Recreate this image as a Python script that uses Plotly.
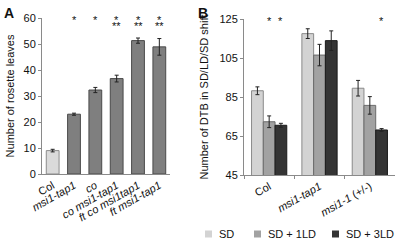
import plotly.graph_objects as go

# ---- Panel A data ----
a_categories = ["Col", "<i>msi1-tap1</i>", "<i>co</i>", "<i>co msi1-tap1</i>",
                "<i>ft co msi1tap1</i>", "<i>ft msi1-tap1</i>"]
a_values = [9.0, 23.0, 32.3, 36.7, 51.3, 48.9]
a_errors = [0.5, 0.4, 1.0, 1.3, 1.0, 3.2]
a_single_star = [1, 2, 3, 4, 5]
a_double_star = [3, 4, 5]
a_ticks = [0, 10, 20, 30, 40, 50, 60]

# ---- Panel B data ----
b_categories = ["Col", "<i>msi1-tap1</i>", "<i>msi1-1</i> (+/-)"]
b_series = ["SD", "SD + 1LD", "SD + 3LD"]
b_values = {
    "SD": [88.2, 117.5, 89.5],
    "SD + 1LD": [72.3, 106.5, 80.7],
    "SD + 3LD": [70.5, 113.9, 68.1],
}
b_errors = {
    "SD": [2.0, 2.5, 4.0],
    "SD + 1LD": [3.0, 5.5, 4.5],
    "SD + 3LD": [1.0, 5.0, 0.7],
}
b_stars = [(0, "SD + 1LD"), (0, "SD + 3LD"), (2, "SD + 3LD")]
b_ticks = [45, 65, 85, 105, 125]

# styles
W, H = 397, 241
FONT = "Liberation Sans, Arial, sans-serif"
INK = "#111111"
b_fill = {"SD": "#d3d3d3", "SD + 1LD": "#a2a2a2", "SD + 3LD": "#343434"}
b_line = {"SD": "#8a8a8a", "SD + 1LD": "#6a6a6a", "SD + 3LD": "#1a1a1a"}

fig = go.Figure()

a_colors = ["#dadada"] + ["#7f7f7f"] * (len(a_values) - 1)
a_lines = ["#8c8c8c"] + ["#4a4a4a"] * (len(a_values) - 1)
fig.add_trace(go.Bar(
    x=a_categories, y=a_values, width=0.6,
    marker=dict(color=a_colors, line=dict(color=a_lines, width=1)),
    error_y=dict(type="data", array=a_errors, color="#222", thickness=1, width=2),
    xaxis="x", yaxis="y", showlegend=False,
))

for s in b_series:
    fig.add_trace(go.Bar(
        x=b_categories, y=b_values[s], name=s,
        marker=dict(color=b_fill[s], line=dict(color=b_line[s], width=1)),
        error_y=dict(type="data", array=b_errors[s], color="#222", thickness=1, width=2),
        xaxis="x2", yaxis="y2", showlegend=False,
    ))


def axis_style(ticks="outside"):
    return dict(showgrid=False, zeroline=False, showline=True, linecolor="#8a8a8a",
                linewidth=1, ticks=ticks, tickcolor="#8a8a8a", ticklen=3,
                tickfont=dict(family=FONT, size=11, color=INK), automargin=False)


fig.update_layout(
    width=W, height=H, template="none",
    margin=dict(l=0, r=0, t=0, b=0),
    paper_bgcolor="white", plot_bgcolor="white",
    barmode="group", bargap=0.3, bargroupgap=0,
    font=dict(family=FONT, size=11, color=INK),
    xaxis=dict(domain=[42 / W, 170 / W], anchor="y", tickangle=-30, **axis_style("")),
    yaxis=dict(domain=[67 / H, 223 / H], anchor="x", range=[0, 60],
               tickmode="array", tickvals=a_ticks,
               title=dict(text="Number of rosette leaves", standoff=6,
                          font=dict(family=FONT, size=11, color=INK)),
               **axis_style()),
    xaxis2=dict(domain=[244 / W, 395 / W], anchor="y2", tickangle=-30,
                tickson="boundaries", **axis_style()),
    yaxis2=dict(domain=[66 / H, 222 / H], anchor="x2", range=[45, 125],
                tickmode="array", tickvals=b_ticks,
                title=dict(text="Number of DTB in SD/LD/SD shift", standoff=8,
                           font=dict(family=FONT, size=11, color=INK)),
                **axis_style()),
)

ann = []
ann.append(dict(text="<b>A</b>", x=2 / W, y=1 - 3 / H, xref="paper", yref="paper",
                xanchor="left", yanchor="top", showarrow=False,
                font=dict(size=14, color=INK)))
ann.append(dict(text="<b>B</b>", x=196 / W, y=1 - 3 / H, xref="paper", yref="paper",
                xanchor="left", yanchor="top", showarrow=False,
                font=dict(size=14, color=INK)))
for i in a_single_star:
    ann.append(dict(text="*", x=i, y=59.2, xref="x", yref="y", showarrow=False,
                    yanchor="middle", font=dict(size=11, color=INK)))
for i in a_double_star:
    ann.append(dict(text="**", x=i, y=56.9, xref="x", yref="y", showarrow=False,
                    yanchor="middle", font=dict(size=11, color=INK)))
group_w = 1 - 0.3
for ci, s in b_stars:
    k = b_series.index(s)
    off = (k - (len(b_series) - 1) / 2) * group_w / len(b_series)
    ann.append(dict(text="*", x=ci + off, y=123.8, xref="x2", yref="y2", showarrow=False,
                    yanchor="middle", font=dict(size=11, color=INK)))

# legend drawn as small swatches with labels
leg_x = [205, 254, 332]
shapes = []
for s, lx in zip(b_series, leg_x):
    shapes.append(dict(type="rect", xref="paper", yref="paper",
                       x0=lx / W, x1=(lx + 7) / W, y0=(H - 237.5) / H, y1=(H - 230.5) / H,
                       fillcolor=b_fill[s], line=dict(width=0)))
    ann.append(dict(text=s, x=(lx + 12) / W, y=(H - 234) / H, xref="paper", yref="paper",
                    xanchor="left", yanchor="middle", showarrow=False,
                    font=dict(size=11, color=INK)))

fig.update_layout(annotations=ann, shapes=shapes)
fig.write_html("out.html", config={"displayModeBar": False},
               post_script="document.body.style.margin='0';document.body.style.overflow='hidden';")
